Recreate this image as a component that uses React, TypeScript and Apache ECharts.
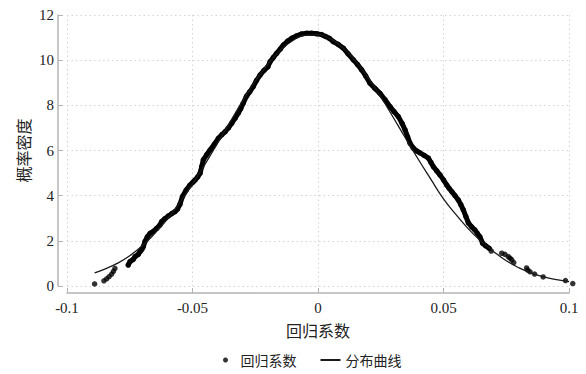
import React, { useEffect, useRef } from "react";
import * as echarts from "echarts";

// Tick labels
const xTickLabels = ["-0.1", "-0.05", "0", "0.05", "0.1"];
const yTickLabels = ["0", "2", "4", "6", "8", "10", "12"];

// Fitted distribution curve (分布曲线)
const curveX = [-0.089, -0.085, -0.08, -0.075, -0.07, -0.065, -0.06, -0.055, -0.05, -0.045, -0.04, -0.035, -0.03, -0.025, -0.02, -0.015, -0.01, -0.005, 0, 0.005, 0.01, 0.015, 0.02, 0.025, 0.03, 0.035, 0.04, 0.045, 0.05, 0.055, 0.06, 0.065, 0.07, 0.075, 0.08, 0.085, 0.09, 0.095, 0.1];
const curveY = [0.58, 0.75, 1.0, 1.34, 1.78, 2.33, 2.97, 3.7, 4.52, 5.4, 6.33, 7.27, 8.2, 9.06, 9.82, 10.44, 10.87, 11.11, 11.13, 10.94, 10.54, 9.95, 9.22, 8.38, 7.46, 6.52, 5.6, 4.72, 3.86, 3.16, 2.52, 1.98, 1.52, 1.12, 0.81, 0.57, 0.4, 0.28, 0.19];

// Regression coefficients (回归系数): left tail dots
const leftTailX = [-0.089, -0.0853, -0.0842, -0.0832, -0.0822, -0.0815, -0.0809];
const leftTailY = [0.09, 0.23, 0.32, 0.42, 0.53, 0.65, 0.78];

// Dense central run of points
const denseX = [-0.0756, -0.0749, -0.0736, -0.0729, -0.0716, -0.0709, -0.0702, -0.0696, -0.0689, -0.068, -0.0669, -0.0656, -0.0643, -0.063, -0.0623, -0.061, -0.0596, -0.0583, -0.057, -0.056, -0.055, -0.054, -0.0525, -0.051, -0.0498, -0.049, -0.048, -0.047, -0.0463, -0.0457, -0.0443, -0.043, -0.0413, -0.0397, -0.0383, -0.037, -0.0357, -0.0344, -0.033, -0.0318, -0.0308, -0.0298, -0.0285, -0.0272, -0.0258, -0.0245, -0.0231, -0.0215, -0.02, -0.0191, -0.0178, -0.0165, -0.015, -0.0138, -0.012, -0.0105, -0.0085, -0.0065, -0.0045, -0.0025, -0.0005, 0.0015, 0.003, 0.0045, 0.0061, 0.008, 0.0101, 0.012, 0.0141, 0.0158, 0.0174, 0.019, 0.0207, 0.0227, 0.0247, 0.0267, 0.0287, 0.0303, 0.032, 0.0335, 0.0347, 0.0357, 0.0367, 0.038, 0.0393, 0.0406, 0.0423, 0.044, 0.045, 0.046, 0.0473, 0.0486, 0.05, 0.0513, 0.0523, 0.0533, 0.0546, 0.0559, 0.0569, 0.0579, 0.0589, 0.0599, 0.0612, 0.0625, 0.0635, 0.0645, 0.0656, 0.0668, 0.0682];
const denseY = [0.93, 1.08, 1.18, 1.3, 1.4, 1.52, 1.62, 1.74, 1.98, 2.18, 2.33, 2.42, 2.55, 2.7, 2.85, 2.98, 3.1, 3.2, 3.29, 3.4, 3.62, 3.96, 4.25, 4.47, 4.6, 4.69, 4.82, 4.99, 5.3, 5.58, 5.82, 6.02, 6.28, 6.54, 6.7, 6.83, 7.0, 7.2, 7.43, 7.65, 7.85, 8.09, 8.4, 8.6, 8.83, 9.1, 9.34, 9.55, 9.7, 9.93, 10.12, 10.3, 10.5, 10.67, 10.85, 10.97, 11.08, 11.16, 11.19, 11.19, 11.17, 11.13, 11.05, 10.97, 10.82, 10.7, 10.53, 10.28, 10.01, 9.8, 9.57, 9.3, 8.98, 8.75, 8.53, 8.25, 7.94, 7.72, 7.5, 7.2, 6.91, 6.6, 6.32, 6.1, 5.98, 5.9, 5.78, 5.66, 5.47, 5.28, 5.1, 4.92, 4.7, 4.47, 4.32, 4.18, 4.0, 3.81, 3.6, 3.37, 3.08, 2.8, 2.62, 2.48, 2.33, 2.18, 1.89, 1.78, 1.67];

// Right tail dots
const rightTailX = [0.069, 0.0732, 0.0745, 0.0758, 0.0765, 0.0772, 0.078, 0.0831, 0.0836, 0.0845, 0.0863, 0.0897, 0.0986, 0.1015];
const rightTailY = [1.55, 1.45, 1.4, 1.3, 1.23, 1.16, 1.04, 0.8, 0.7, 0.63, 0.53, 0.4, 0.24, 0.11];

const zip = (xs: number[], ys: number[]) => xs.map((x, i) => [x, ys[i]]);

export default function App() {
  const ref = useRef<HTMLDivElement>(null);
  useEffect(() => {
    if (!ref.current) return;
    const chart = echarts.init(ref.current, undefined, { renderer: "svg" });
    const serif = "Liberation Serif, Times New Roman, serif";
    const cjk = "Noto Sans CJK SC";
    const axisGray = "#b4b4b4";
    const allDots = [
      ...zip(leftTailX, leftTailY),
      ...zip(denseX, denseY),
      ...zip(rightTailX, rightTailY),
    ];
    const fmt = (v: number) => {
      const idx = Math.round((v + 0.1) / 0.05);
      return xTickLabels[idx] ?? String(v);
    };
    chart.setOption({
      animation: false,
      backgroundColor: "#fff",
      grid: { left: 67, right: 17, top: 15, bottom: 88 },
      legend: {
        bottom: 2,
        left: 218,
        itemWidth: 20,
        itemHeight: 5,
        itemGap: 24,
        textStyle: { fontFamily: cjk, fontSize: 14, color: "#222" },
        data: [
          { name: "回归系数", icon: "circle" },
          { name: "分布曲线", icon: "path://M0,0H20V2H0Z" },
        ],
      },
      xAxis: {
        type: "value",
        min: -0.1,
        max: 0.1,
        interval: 0.05,
        offset: 7,
        name: "回归系数",
        nameLocation: "middle",
        nameGap: 29,
        nameMoveOverlap: false,
        nameTextStyle: { fontFamily: cjk, fontSize: 16, color: "#222" },
        axisLine: { show: true, onZero: false, lineStyle: { color: axisGray, width: 1.5 } },
        axisTick: { show: true, inside: true, length: 5, lineStyle: { color: axisGray } },
        axisLabel: { fontFamily: serif, fontSize: 15, color: "#222", margin: 7, formatter: fmt },
        splitLine: { show: true, lineStyle: { color: "#d4d4d4", type: [1.5, 3], width: 1 } },
      },
      yAxis: {
        type: "value",
        min: 0,
        max: 12,
        interval: 2,
        offset: 9,
        name: "概率密度",
        nameLocation: "middle",
        nameGap: 27,
        nameMoveOverlap: false,
        nameTextStyle: { fontFamily: cjk, fontSize: 16, color: "#222" },
        axisLine: { show: true, onZero: false, lineStyle: { color: axisGray, width: 1.5 } },
        axisTick: { show: true, inside: true, length: 5, lineStyle: { color: axisGray } },
        axisLabel: {
          fontFamily: serif,
          fontSize: 15,
          color: "#222",
          margin: 4,
          formatter: (v: number) => yTickLabels[Math.round(v / 2)] ?? String(v),
        },
        splitLine: { show: true, lineStyle: { color: "#d4d4d4", type: [1.5, 3], width: 1 } },
      },
      series: [
        {
          name: "回归系数",
          type: "scatter",
          data: allDots,
          symbol: "circle",
          symbolSize: 5.5,
          itemStyle: { color: "#000" },
          clip: false,
          z: 3,
        },
        {
          name: "回归系数",
          type: "line",
          data: zip(denseX, denseY),
          showSymbol: false,
          lineStyle: { color: "#000", width: 5, cap: "round", join: "round" },
          itemStyle: { color: "#000" },
          z: 3,
        },
        {
          name: "分布曲线",
          type: "line",
          data: zip(curveX, curveY),
          smooth: true,
          showSymbol: false,
          lineStyle: { color: "#1a1a1a", width: 1.3 },
          itemStyle: { color: "#1a1a1a" },
          z: 4,
        },
      ],
    });
    return () => chart.dispose();
  }, []);
  return (
    <div
      ref={ref}
      style={{ position: "fixed", left: 0, top: 0, width: 586, height: 374, background: "#fff" }}
    />
  );
}
